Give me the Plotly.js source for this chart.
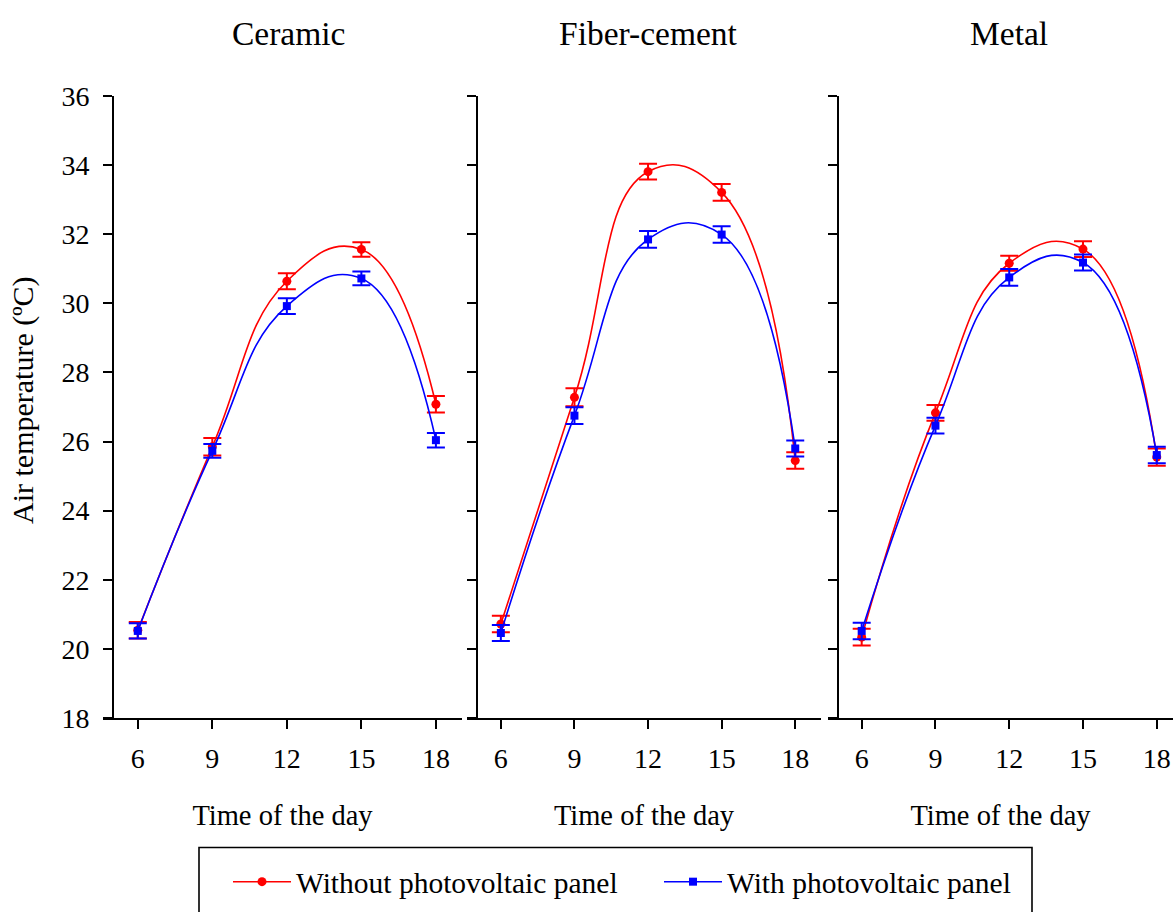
<!DOCTYPE html>
<html>
<head>
<meta charset="utf-8">
<script src="https://cdn.plot.ly/plotly-3.0.1.min.js"></script>
<style>html,body{margin:0;padding:0;background:#fff;}#chart{width:1173px;height:912px;}</style>
</head>
<body>
<div id="chart"></div>
<script>
// ---- data ----
const hours = [6, 9, 12, 15, 18];
const panelTitles = ["Ceramic", "Fiber-cement", "Metal"];
const seriesNames = ["Without photovoltaic panel", "With photovoltaic panel"];

const ceramicWithout = [20.54, 25.85, 30.64, 31.56, 27.08];
const ceramicWith    = [20.52, 25.73, 29.92, 30.72, 26.04];
const fiberWithout   = [20.72, 27.28, 33.81, 33.21, 25.45];
const fiberWith      = [20.46, 26.75, 31.85, 31.99, 25.80];
const metalWithout   = [20.34, 26.83, 31.16, 31.57, 25.55];
const metalWith      = [20.52, 26.46, 30.75, 31.18, 25.61];

const ceramicWithoutErr = [0.24, 0.25, 0.23, 0.21, 0.24];
const ceramicWithErr    = [0.22, 0.20, 0.23, 0.20, 0.21];
const fiberWithoutErr   = [0.24, 0.26, 0.23, 0.24, 0.24];
const fiberWithErr      = [0.23, 0.24, 0.24, 0.24, 0.23];
const metalWithoutErr   = [0.24, 0.23, 0.22, 0.23, 0.25];
const metalWithErr      = [0.24, 0.23, 0.24, 0.23, 0.24];

// ---- styling ----
const RED = "#ff0000";
const BLUE = "#0000ff";
const FONT = "Liberation Serif, Times New Roman, serif";
const W = 1173, H = 912;

function mk(x, y, err, color, symbol, name, ax, showlegend) {
  return {
    type: "scatter", mode: "lines+markers",
    x: x, y: y, name: name, showlegend: showlegend,
    xaxis: "x" + ax, yaxis: "y" + ax,
    line: {color: color, width: 1.6, shape: "spline", smoothing: 1.3},
    marker: {color: color, symbol: symbol, size: symbol === "square" ? 8 : 9},
    error_y: {type: "data", array: err, visible: true, color: color, thickness: 2, width: 9}
  };
}

const sets = [
  [ceramicWithout, ceramicWith, ceramicWithoutErr, ceramicWithErr],
  [fiberWithout, fiberWith, fiberWithoutErr, fiberWithErr],
  [metalWithout, metalWith, metalWithoutErr, metalWithErr]
];

const traces = [];
sets.forEach((s, i) => {
  const ax = i === 0 ? "" : String(i + 1);
  traces.push(mk(hours, s[0], s[2], RED, "circle", seriesNames[0], ax, i === 0));
  traces.push(mk(hours, s[1], s[3], BLUE, "square", seriesNames[1], ax, i === 0));
});

// pixel helpers for layout placement
const px = v => v / W;
const py = v => 1 - v / H;

const xDomains = [[px(103), px(462)], [px(467), px(821)], [px(828), 1]];
const xRanges = [[4.6, 19.05], [4.62, 19.05], [4.63, 18.66]];
const yPos = [px(113), px(476.8), px(837.5)];
const yDomain = [py(718), py(96)];

const layout = {
  width: W, height: H,
  margin: {l: 0, r: 0, t: 0, b: 0},
  paper_bgcolor: "#fff", plot_bgcolor: "rgba(0,0,0,0)",
  font: {family: FONT, color: "#000", size: 28},
  showlegend: true,
  legend: {
    orientation: "h", x: px(228), xanchor: "left", y: py(882), yanchor: "middle",
    font: {family: FONT, size: 29.5, color: "#000"},
    bgcolor: "rgba(0,0,0,0)", borderwidth: 0,
    itemwidth: 58,
    entrywidth: 358, entrywidthmode: "pixels"
  },
  annotations: [],
  shapes: [{
    type: "rect", xref: "paper", yref: "paper",
    x0: px(199), x1: px(1032), y0: py(916), y1: py(847.5),
    line: {color: "#000", width: 1.6}, fillcolor: "rgba(0,0,0,0)"
  }]
};

const titleX = [288, 648, 1009];
for (let i = 0; i < 3; i++) {
  const ax = i === 0 ? "" : String(i + 1);
  layout["xaxis" + ax] = {
    domain: xDomains[i], range: xRanges[i], anchor: "y" + ax,
    tickvals: hours, ticktext: hours.map(String),
    ticks: "outside", ticklen: 9, tickwidth: 2, tickcolor: "#000",
    ticklabelstandoff: 5, ticklabeloverflow: "allow",
    showline: true, linecolor: "#000", linewidth: 2,
    showgrid: false, zeroline: false,
    tickfont: {family: FONT, size: 28, color: "#000"},
    title: {text: "Time of the day", font: {family: FONT, size: 28.5, color: "#000"}, standoff: 32}
  };
  layout["yaxis" + ax] = {
    domain: yDomain, range: [18, 36], anchor: "free", position: yPos[i],
    dtick: 2, tick0: 18,
    ticks: "outside", ticklen: 9, tickwidth: 2, tickcolor: "#000",
    ticklabelstandoff: 8,
    showline: true, linecolor: "#000", linewidth: 2,
    showgrid: false, zeroline: false,
    showticklabels: i === 0,
    tickfont: {family: FONT, size: 28, color: "#000"}
  };
  layout.annotations.push({
    text: panelTitles[i], xref: "paper", yref: "paper",
    x: px(titleX[i]), y: py(33), xanchor: "center", yanchor: "middle",
    showarrow: false, font: {family: FONT, size: 33.5, color: "#000"}
  });
}
layout.annotations.push({
  text: "Air temperature (ºC)", xref: "paper", yref: "paper",
  x: px(23), y: py(400), xanchor: "center", yanchor: "middle", textangle: -90,
  showarrow: false, font: {family: FONT, size: 30, color: "#000"}
});

Plotly.newPlot("chart", traces, layout, {staticPlot: true, displayModeBar: false});
</script>
</body>
</html>
